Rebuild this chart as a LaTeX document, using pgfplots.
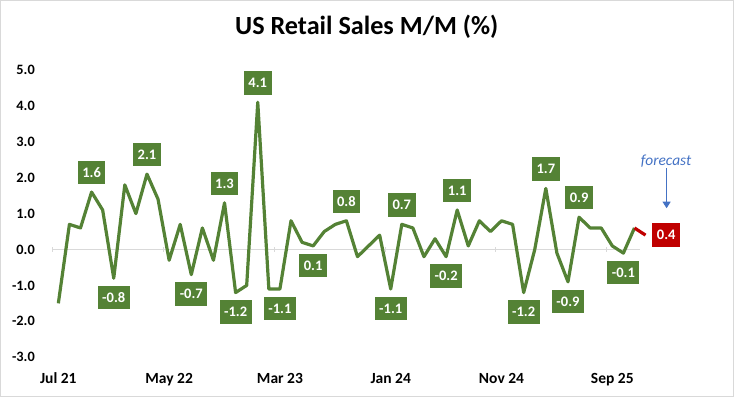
\documentclass[border=0pt]{standalone}
\usepackage{fontspec}
\setmainfont{Carlito}
\usepackage{pgfplots}
\usepackage{pgfplotstable}
\pgfplotsset{compat=1.18}
\usetikzlibrary{arrows.meta}
\definecolor{xlgreen}{RGB}{84,130,53}
\definecolor{xlred}{RGB}{192,0,0}
\definecolor{xlblue}{RGB}{68,114,196}
\definecolor{xlgray}{RGB}{217,217,217}
\tikzset{lbl/.style={fill=#1, text=white, font=\fontsize{14.5bp}{17bp}\selectfont\bfseries, inner xsep=4.5bp, inner ysep=7bp, text height=9.5bp, text depth=0bp}}

\pgfplotstableread{
x y
0 -1.5
1 0.7
2 0.6
3 1.6
4 1.1
5 -0.8
6 1.8
7 1.0
8 2.1
9 1.4
10 -0.3
11 0.7
12 -0.7
13 0.6
14 -0.3
15 1.3
16 -1.2
17 -1.0
18 4.1
19 -1.1
20 -1.1
21 0.8
22 0.2
23 0.1
24 0.5
25 0.7
26 0.8
27 -0.2
28 0.1
29 0.4
30 -1.1
31 0.7
32 0.6
33 -0.2
34 0.3
35 -0.2
36 1.1
37 0.1
38 0.8
39 0.5
40 0.8
41 0.7
42 -1.2
43 0.0
44 1.7
45 -0.1
46 -0.9
47 0.9
48 0.6
49 0.6
50 0.1
51 -0.1
52 0.6
}\mainseries

\pgfplotstableread{
x y
52 0.6
53 0.4
}\forecastseries

\pgfplotstableread{
x y
3 1.6
8 2.1
15 1.3
18 4.1
26 0.8
31 0.7
36 1.1
44 1.7
47 0.9
}\aboveL

\pgfplotstableread{
x y
5 -0.8
12 -0.7
16 -1.2
20 -1.1
23 0.1
30 -1.1
35 -0.2
42 -1.2
46 -0.9
51 -0.1
}\belowL

\pgfplotstableread{
x y
53 0.4
}\fcL

\begin{document}
\begin{tikzpicture}
\useasboundingbox (-52.8bp,-39.8bp) rectangle (681.2bp,357.2bp);
\draw[xlgray, line width=1bp] (-52.3bp,-39.3bp) rectangle (680.7bp,356.7bp);
\node[anchor=base, font=\fontsize{26.2bp}{29bp}\selectfont\bfseries] at (313.9bp,322.9bp) {US Retail Sales M/M (\%)};
\begin{axis}[
  scale only axis, width=587.2bp, height=287.2bp,
  xmin=-0.5, xmax=52.5, ymin=-3, ymax=5,
  clip=false,
  axis line style={draw=none},
  major tick length=0pt,
  xtick={0,10,20,30,40,50},
  xticklabels={Jul 21, May 22, Mar 23, Jan 24, Nov 24, Sep 25},
  ytick={-3,-2,-1,0,1,2,3,4,5},
  /pgf/number format/fixed,
  /pgf/number format/fixed zerofill,
  /pgf/number format/precision=1,
  /pgf/number format/assume math mode=true,
  x tick label style={font=\fontsize{15.5bp}{18bp}\selectfont\bfseries, anchor=base, inner sep=0pt, yshift=-26.7bp},
  y tick label style={font=\fontsize{14.3bp}{17bp}\selectfont\bfseries, anchor=east, inner sep=0pt, xshift=-17.8bp},
]
\addplot[xlgray, line width=1bp, forget plot] coordinates {(-0.5,0) (52.5,0)};
\addplot[xlgray, line width=1bp, only marks, mark=|, mark size=2.5bp, forget plot] coordinates {(-0.5,0) (9.5,0) (19.5,0) (29.5,0) (39.5,0) (49.5,0)};
\addplot[xlgreen, line width=3.2bp, line join=round, mark=none] table {\mainseries};
\addplot[xlred, line width=3.2bp, mark=none] table {\forecastseries};
\addplot[draw=none, mark=none, point meta=y, nodes near coords,
  nodes near coords style={lbl=xlgreen, anchor=south, yshift=7.5bp}] table {\aboveL};
\addplot[draw=none, mark=none, point meta=y, nodes near coords,
  nodes near coords style={lbl=xlgreen, anchor=north, yshift=-7.5bp}] table {\belowL};
\addplot[draw=none, mark=none, point meta=y, nodes near coords,
  nodes near coords style={lbl=xlred, anchor=west, xshift=6.7bp}] table {\fcL};
\node[anchor=base, text=xlblue, font=\fontsize{15.4bp}{18bp}\selectfont\itshape] at (axis cs:54.85,2.35) {forecast};
\draw[xlblue, line width=0.9bp, -{Triangle[width=8bp,length=6.5bp]}] (axis cs:54.9,2.27) -- (axis cs:54.9,1.15);
\end{axis}
\end{tikzpicture}
\end{document}
